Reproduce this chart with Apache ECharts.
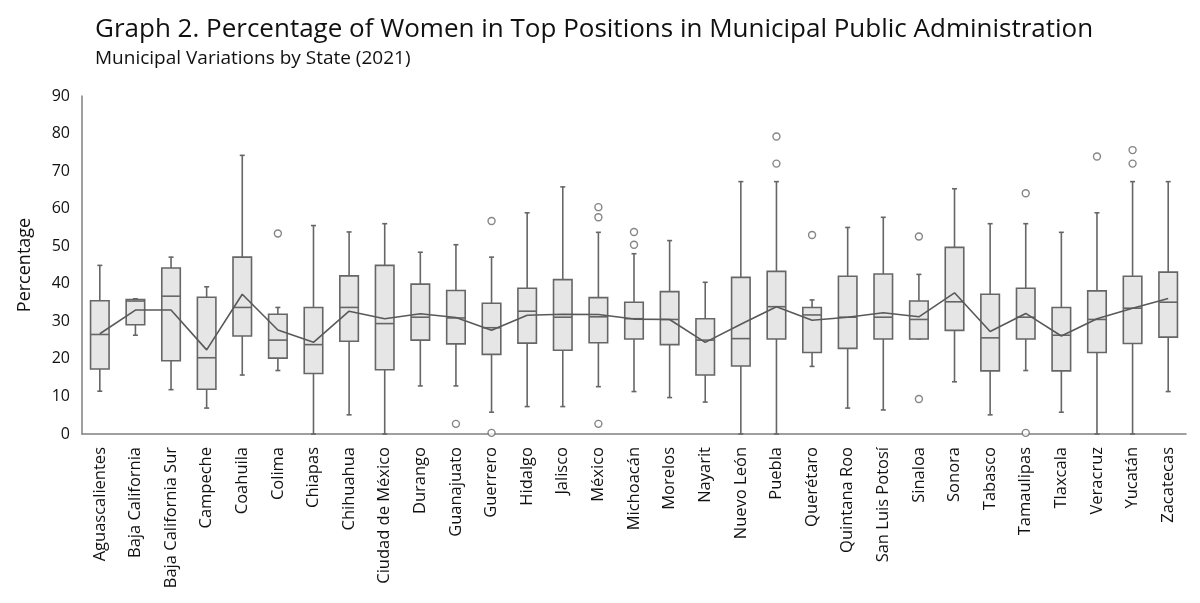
<!DOCTYPE html>
<html>

<head>
    <meta charset="utf-8">
    <title>Graph 2</title>
    <script type="text/javascript" src="https://cdn.jsdelivr.net/npm/echarts@6/dist/echarts.min.js"></script>
</head>
<style type="text/css">
    html,
    body {
        margin: 0;
        padding: 0;
        background: #fff;
    }

    #main {
        width: 1200px;
        height: 603px;
    }
</style>

<body>
    <div id="main"></div>

    <script type="text/javascript">
        var states = ['Aguascalientes', 'Baja California', 'Baja California Sur', 'Campeche', 'Coahuila', 'Colima',
            'Chiapas', 'Chihuahua', 'Ciudad de México', 'Durango', 'Guanajuato', 'Guerrero', 'Hidalgo', 'Jalisco',
            'México', 'Michoacán', 'Morelos', 'Nayarit', 'Nuevo León', 'Puebla', 'Querétaro', 'Quintana Roo',
            'San Luis Potosí', 'Sinaloa', 'Sonora', 'Tabasco', 'Tamaulipas', 'Tlaxcala', 'Veracruz', 'Yucatán',
            'Zacatecas'];

        // box plot values
        var whiskerLow = [11.4, 26.3, 11.8, 6.9, 15.7, 16.9, 0, 5.1, 0, 12.8, 12.8, 5.8, 7.3, 7.3, 12.6, 11.3,
            9.7, 8.5, 0, 0, 18.0, 6.9, 6.4, 25.3, 13.9, 5.1, 16.9, 5.8, 0, 0, 11.3];
        var q1 = [17.3, 29.1, 19.5, 11.9, 26.1, 20.2, 16.1, 24.7, 17.1, 25.0, 24.0, 21.2, 24.2, 22.3, 24.3, 25.3,
            23.8, 15.7, 18.1, 25.3, 21.7, 22.8, 25.3, 25.3, 27.6, 16.8, 25.3, 16.8, 21.7, 24.1, 25.8];
        var median = [26.5, 35.4, 36.7, 20.3, 33.7, 25.0, 23.8, 33.7, 29.4, 31.1, 30.9, 28.3, 32.7, 31.1, 31.2, 30.7,
            30.5, 25.0, 25.4, 33.9, 31.7, 31.1, 31.1, 30.5, 35.2, 25.6, 31.1, 26.3, 30.5, 33.5, 35.1];
        var q3 = [35.5, 35.8, 44.2, 36.4, 47.1, 31.9, 33.7, 42.1, 44.9, 39.9, 38.2, 34.8, 38.8, 41.1, 36.3, 35.1,
            37.9, 30.7, 41.7, 43.3, 33.7, 42.0, 42.6, 35.4, 49.7, 37.2, 38.8, 33.7, 38.1, 42.0, 43.1];
        var whiskerHigh = [44.9, 36.0, 47.1, 39.2, 74.2, 33.7, 55.5, 53.8, 56.0, 48.4, 50.4, 47.1, 58.9, 65.8, 53.7, 48.0,
            51.5, 40.4, 67.2, 67.2, 35.7, 55.0, 57.7, 42.5, 65.3, 56.0, 56.0, 53.7, 58.9, 67.2, 67.2];
        var means = [26.7, 33.0, 33.0, 22.4, 37.2, 27.7, 24.4, 32.7, 30.7, 32.0, 31.0, 27.6, 31.6, 31.9, 31.8, 30.6,
            30.5, 24.4, 29.2, 33.9, 30.3, 31.1, 32.3, 31.2, 37.6, 27.3, 32.1, 26.1, 30.7, 33.5, 36.1];
        // [state index, value]
        var outliers = [[5, 53.4], [10, 2.7], [11, 56.7], [11, 0.3], [14, 60.4], [14, 57.7], [14, 2.7], [15, 53.8],
            [15, 50.4], [19, 79.2], [19, 72.0], [20, 53.0], [23, 52.6], [23, 9.3], [26, 64.1], [26, 0.3], [28, 73.9],
            [29, 75.6], [29, 72.0]];
        var yTicks = { min: 0, max: 90, step: 10 };

        var boxData = states.map(function (s, i) {
            return [i, whiskerLow[i], q1[i], median[i], q3[i], whiskerHigh[i]];
        });

        var lineColor = '#666666';
        var fontName = 'Open Sans';

        function renderBox(params, api) {
            var x = api.value(0);
            var pLow = api.coord([x, api.value(1)]);
            var pQ1 = api.coord([x, api.value(2)]);
            var pMed = api.coord([x, api.value(3)]);
            var pQ3 = api.coord([x, api.value(4)]);
            var pHigh = api.coord([x, api.value(5)]);
            var halfW = api.size([1, 0])[0] * 0.26;
            var cap = 2.5;
            var st = { stroke: lineColor, lineWidth: 1.6, fill: null };
            return {
                type: 'group',
                children: [
                    { type: 'line', shape: { x1: pLow[0], y1: pLow[1], x2: pHigh[0], y2: pHigh[1] }, style: st },
                    { type: 'line', shape: { x1: pLow[0] - cap, y1: pLow[1], x2: pLow[0] + cap, y2: pLow[1] }, style: st },
                    { type: 'line', shape: { x1: pHigh[0] - cap, y1: pHigh[1], x2: pHigh[0] + cap, y2: pHigh[1] }, style: st },
                    {
                        type: 'rect',
                        shape: { x: pQ3[0] - halfW, y: pQ3[1], width: halfW * 2, height: pQ1[1] - pQ3[1] },
                        style: { fill: '#e6e6e6', stroke: lineColor, lineWidth: 1.6 }
                    },
                    { type: 'line', shape: { x1: pMed[0] - halfW, y1: pMed[1], x2: pMed[0] + halfW, y2: pMed[1] }, style: st }
                ]
            };
        }

        var chart = echarts.init(document.getElementById('main'));

        var option = {
            animation: false,
            backgroundColor: '#ffffff',
            title: {
                text: 'Graph 2. Percentage of Women in Top Positions in Municipal Public Administration',
                subtext: 'Municipal Variations by State (2021)',
                left: 90,
                top: 12,
                itemGap: 6,
                textStyle: { fontFamily: fontName, fontSize: 26, fontWeight: 'normal', color: '#111' },
                subtextStyle: { fontFamily: fontName, fontSize: 19, color: '#111' }
            },
            grid: {
                left: 82,
                right: 14,
                top: 96,
                bottom: 169
            },
            xAxis: {
                type: 'category',
                data: states,
                boundaryGap: true,
                axisLine: { lineStyle: { color: '#808080', width: 1.5 } },
                axisTick: { show: false },
                axisLabel: {
                    interval: 0,
                    rotate: 90,
                    margin: 13,
                    fontFamily: fontName,
                    fontSize: 16.5,
                    color: '#111'
                },
                splitLine: { show: false }
            },
            yAxis: {
                type: 'value',
                min: yTicks.min,
                max: yTicks.max,
                interval: yTicks.step,
                name: 'Percentage',
                nameLocation: 'middle',
                nameGap: 48,
                nameTextStyle: { fontFamily: fontName, fontSize: 18, color: '#111' },
                axisLine: { show: true, lineStyle: { color: '#808080', width: 1.5 } },
                axisTick: { show: false },
                axisLabel: { fontFamily: fontName, fontSize: 16, color: '#111', margin: 12 },
                splitLine: { show: false }
            },
            series: [{
                name: 'boxes',
                type: 'custom',
                renderItem: renderBox,
                data: boxData,
                encode: { x: 0, y: [1, 2, 3, 4, 5] },
                z: 2
            }, {
                name: 'mean',
                type: 'line',
                data: means,
                symbol: 'none',
                lineStyle: { color: '#595959', width: 1.6 },
                z: 3
            }, {
                name: 'outliers',
                type: 'scatter',
                data: outliers,
                symbol: 'circle',
                symbolSize: 7,
                itemStyle: { color: '#ffffff', borderColor: lineColor, borderWidth: 1.4 },
                z: 4
            }]
        };
        chart.setOption(option);

        window.addEventListener('resize', function () {
            chart.resize();
        });
    </script>
</body>

</html>
